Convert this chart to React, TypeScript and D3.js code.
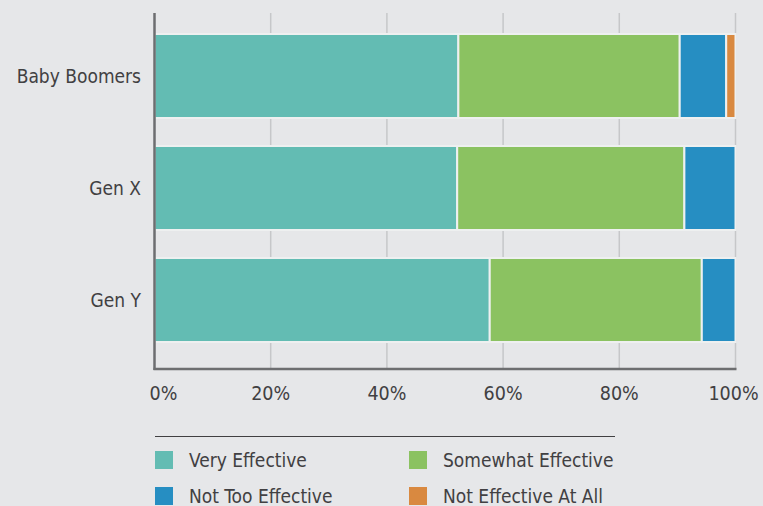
import React from "react";
import * as d3 from "d3";

const categories = ["Baby Boomers", "Gen X", "Gen Y"];
const seriesNames = ["Very Effective", "Somewhat Effective", "Not Too Effective", "Not Effective At All"];
const veryEffective = [52.3, 52.1, 57.7];
const somewhatEffective = [38.1, 39.1, 36.5];
const notTooEffective = [8.0, 8.8, 5.8];
const notEffectiveAtAll = [1.6, 0, 0];
const tickValues = [0, 20, 40, 60, 80, 100];
const tickLabels = ["0%", "20%", "40%", "60%", "80%", "100%"];
const colors = ["#63bcb3", "#8bc261", "#268ec2", "#d98940"];

const W = 763;
const H = 506;
const FONT = "'DejaVu Sans Condensed', 'DejaVu Sans', sans-serif";

export default function App() {
  const seriesValues = [veryEffective, somewhatEffective, notTooEffective, notEffectiveAtAll];
  const rows = categories.map((c, i) => {
    const o: Record<string, any> = { cat: c };
    seriesNames.forEach((s, k) => (o[s] = seriesValues[k][i]));
    return o;
  });
  const stacked = d3.stack<any>().keys(seriesNames)(rows);

  const x = d3.scaleLinear().domain([0, 100]).range([154.5, 735.5]);
  const y = d3.scaleBand().domain(categories).range([20, 356]).paddingInner(0.25).paddingOuter(0.125);
  const top = 13;
  const bottom = 369;

  const legendItems = seriesNames.map((s, i) => ({
    name: s,
    color: colors[i],
    lx: i % 2 === 0 ? 155 : 409,
    ly: i < 2 ? 451 : 487,
  }));

  return (
    <svg width={W} height={H} style={{ position: "absolute", left: 0, top: 0, background: "#e6e7e9" }}>
      <rect x={0} y={0} width={W} height={H} fill="#e6e7e9" />
      {tickValues.slice(1).map((t) => (
        <line key={t} x1={x(t)} x2={x(t)} y1={top} y2={bottom} stroke="#c6c7c9" strokeWidth={1.5} />
      ))}
      {stacked.map((layer, k) => (
        <g key={layer.key}>
          {layer.map((d, i) =>
            d[1] - d[0] > 0 ? (
              <rect
                key={i}
                x={x(d[0])}
                y={y(categories[i])!}
                width={x(d[1]) - x(d[0])}
                height={y.bandwidth()}
                fill={colors[k]}
                stroke="#eef0f0"
                strokeWidth={2}
              />
            ) : null
          )}
        </g>
      ))}
      <line x1={x(0)} x2={x(0)} y1={top} y2={bottom + 1} stroke="#6d6e70" strokeWidth={2.5} />
      <line x1={x(0) - 1} x2={x(100) + 1} y1={bottom} y2={bottom} stroke="#6d6e70" strokeWidth={2.5} />
      {categories.map((c) => (
        <text
          key={c}
          x={141}
          y={y(c)! + y.bandwidth() / 2}
          dy="0.35em"
          textAnchor="end"
          fontFamily={FONT}
          fontSize={19}
          fill="#414042"
        >
          {c}
        </text>
      ))}
      {tickValues.map((t, i) => (
        <text
          key={t}
          x={x(t) + (i === 0 ? 9 : i === tickValues.length - 1 ? -2 : 0)}
          y={393}
          dy="0.35em"
          textAnchor="middle"
          fontFamily={FONT}
          fontSize={19.5}
          fill="#414042"
        >
          {tickLabels[i]}
        </text>
      ))}
      <line x1={155} x2={615} y1={436.5} y2={436.5} stroke="#414042" strokeWidth={1.2} />
      {legendItems.map((it) => (
        <g key={it.name}>
          <rect x={it.lx} y={it.ly} width={18} height={18} fill={it.color} />
          <text x={it.lx + 34} y={it.ly + 9} dy="0.35em" fontFamily={FONT} fontSize={19} fill="#414042">
            {it.name}
          </text>
        </g>
      ))}
    </svg>
  );
}
